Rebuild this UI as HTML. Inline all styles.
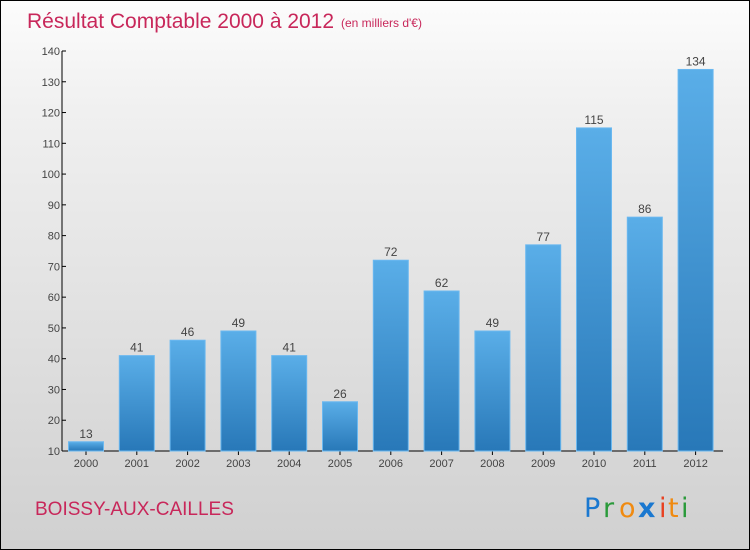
<!DOCTYPE html>
<html><head><meta charset="utf-8"><style>
html,body{margin:0;padding:0}
body{width:750px;height:550px;overflow:hidden;font-family:"Liberation Sans",sans-serif}
#wrap{position:absolute;left:0;top:0;width:748px;height:548px;border:1px solid #000;background:linear-gradient(#fcfcfc,#f0f0f0 20%,#d0d0d0)}
</style></head><body>
<div id="wrap">
<svg id="chart" width="748" height="548" style="position:absolute;left:0;top:0">
<defs><linearGradient id="bg" x1="0" y1="0" x2="0" y2="1"><stop offset="0" stop-color="#5aaee8"/><stop offset="1" stop-color="#2878b8"/></linearGradient></defs>
<text x="26" y="27" font-size="21" fill="#c8275a">Résultat Comptable 2000 à 2012</text>
<text x="340" y="26" font-size="12" fill="#c8275a">(en milliers d'€)</text>
<text x="34" y="514" font-size="19" fill="#c8275a">BOISSY-AUX-CAILLES</text>
<g font-size="27" font-family="'DejaVu Sans',sans-serif">
<text x="583" y="516" fill="#1a78d0">P</text><text x="602" y="516" fill="#2a9a3a">r</text><text x="618" y="516" fill="#f08a10">o</text><text x="637" y="516" fill="#1a78d0" font-weight="bold">x</text><text x="658" y="516" fill="#e84020">i</text><text x="667" y="516" fill="#f08a10">t</text><text x="680" y="516" fill="#2a9a3a">i</text>
</g>
<g id="axes"></g><g id="bars"></g>
</svg></div>
<script>
const categories=["2000","2001","2002","2003","2004","2005","2006","2007","2008","2009","2010","2011","2012"];
const values=[13,41,46,49,41,26,72,62,49,77,115,86,134];
const yTicks=[10,20,30,40,50,60,70,80,90,100,110,120,130,140];
const NS="http://www.w3.org/2000/svg";
const x0=61,yBase=450,yTop=50,vMin=10,vMax=140;
function y(v){return yBase-(v-vMin)/(vMax-vMin)*(yBase-yTop);}
function xc(i){return 85+i*50.8;}
function mk(t,a,p){const e=document.createElementNS(NS,t);for(const k in a)e.setAttribute(k,a[k]);p.appendChild(e);return e;}
const ax=document.getElementById('axes'),bs=document.getElementById('bars');
const yl=mk('line',{x1:x0,y1:yTop,x2:x0,y2:yBase,stroke:'#000'},ax);


const xl=mk('line',{x1:x0,y1:yBase,x2:722,y2:yBase,stroke:'#000'},ax);


yTicks.forEach(v=>{
 mk('line',{x1:x0,y1:y(v),x2:x0+4,y2:y(v),stroke:'#000'},ax);
 const t=mk('text',{x:x0-2,y:y(v)+4,'font-size':11,fill:'#444','text-anchor':'end'},ax);t.textContent=v;
 
 
});
categories.forEach((c,i)=>{
 const cx=xc(i);
 mk('line',{x1:cx,y1:yBase,x2:cx,y2:yBase+4,stroke:'#000'},ax);
 const t=mk('text',{x:cx,y:yBase+16,'font-size':11,fill:'#444','text-anchor':'middle'},ax);t.textContent=c;
 
 
 const r=mk('rect',{x:cx-17.5,y:y(values[i]),width:35,height:yBase-y(values[i]),fill:'url(#bg)',stroke:'#6ab8f0','stroke-width':1},bs);
 
 
 const l=mk('text',{x:cx,y:y(values[i])-4,'font-size':12,fill:'#444','text-anchor':'middle'},bs);l.textContent=values[i];
 
 
});
</script>
</body></html>
